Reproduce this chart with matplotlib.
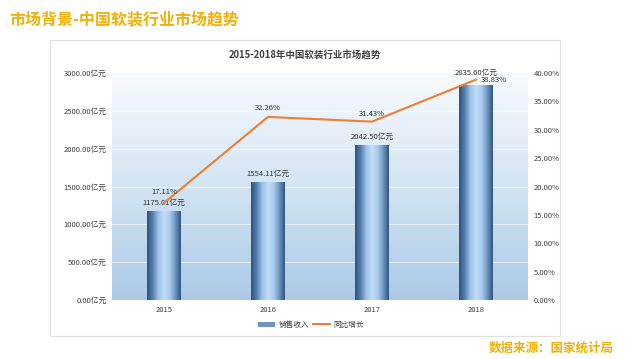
import matplotlib
matplotlib.use("Agg")
import matplotlib.pyplot as plt
import numpy as np
from matplotlib.patches import Rectangle
from matplotlib.colors import LinearSegmentedColormap
from matplotlib.ticker import FuncFormatter, MultipleLocator

plt.rcParams['font.family'] = ['Noto Sans CJK SC', 'DejaVu Sans']

years = ["2015", "2016", "2017", "2018"]
revenue = [1175.01, 1554.11, 2042.50, 2835.60]
growth = [17.11, 32.26, 31.43, 38.83]
rev_labels = ["1175.01亿元", "1554.11亿元", "2042.50亿元", "2835.60亿元"]
growth_labels = ["17.11%", "32.26%", "31.43%", "38.83%"]

fig = plt.figure(figsize=(6.4, 3.59), dpi=100)
W, H = 640, 359

def fx(px): return px / W
def fy(py): return 1 - py / H

# panel box
fig.patches.append(Rectangle((fx(50), fy(336)), fx(560) - fx(50), fy(40) - fy(336),
                             transform=fig.transFigure, facecolor='white',
                             edgecolor='#e0e0e0', linewidth=0.8, zorder=-5))

fig.text(fx(9), fy(19), "市场背景-中国软装行业市场趋势", fontsize=11.5, fontweight='bold',
         color='#F2B10A', ha='left', va='center')
fig.text(fx(614), fy(348), "数据来源：国家统计局", fontsize=9, fontweight='bold',
         color='#F2B10A', ha='right', va='center')
fig.text(fx(305), fy(55), "2015-2018年中国软装行业市场趋势", fontsize=6.8, fontweight='bold',
         color='#404040', ha='center', va='center')

ax = fig.add_axes([fx(112), fy(300), fx(528) - fx(112), fy(73) - fy(300)])
ax.set_zorder(2)
x = np.arange(len(years))
ax.set_xlim(-0.5, len(years) - 0.5)
ax.set_ylim(0, 3000)

# background gradient
bg = LinearSegmentedColormap.from_list('bg', ['#abc9e6', '#d3e4f3', '#f8fbfe'])
grad = np.linspace(0, 1, 256).reshape(-1, 1)
ax.imshow(grad, extent=(-0.5, len(years) - 0.5, 0, 3000), origin='lower',
          aspect='auto', cmap=bg, zorder=0)

for v in range(500, 3001, 500):
    ax.axhline(v, color='white', linewidth=0.6, alpha=0.7, zorder=1)

bars = ax.bar(x, revenue, width=0.32, color='none', zorder=2)
barcm = LinearSegmentedColormap.from_list('bar', ['#2c527c', '#557fad', '#9cc3e8', '#c3def7',
                                                   '#a9cbed', '#6d95c0', '#2f5680'])
hg = np.linspace(0, 1, 256).reshape(1, -1)
for b in bars:
    ax.imshow(hg, extent=(b.get_x(), b.get_x() + b.get_width(), 0, b.get_height()),
              aspect='auto', cmap=barcm, zorder=2)

rev_offsets = [(0, 3), (0, 3), (0, 3), (0, 6)]
for i, (v, lab) in enumerate(zip(revenue, rev_labels)):
    ax.annotate(lab, (x[i], v), xytext=rev_offsets[i], textcoords='offset points',
                ha='center', va='bottom', fontsize=5.5, color='#333333', zorder=5)

ax.yaxis.set_major_locator(MultipleLocator(500))
ax.yaxis.set_major_formatter(FuncFormatter(lambda v, p: f"{v:.2f}亿元"))
ax.set_xticks(x)
ax.set_xticklabels(years)
ax.tick_params(axis='both', length=0, labelsize=5.5, colors='#404040', pad=4)
for s in ax.spines.values():
    s.set_visible(False)

ax2 = ax.twinx()
ax2.set_ylim(0, 40)
line, = ax2.plot(x, growth, color='#ED7D31', linewidth=1.5, zorder=4)
ax2.yaxis.set_major_locator(MultipleLocator(5))
ax2.yaxis.set_major_formatter(FuncFormatter(lambda v, p: f"{v:.2f}%"))
ax2.tick_params(axis='y', length=0, labelsize=5.5, colors='#404040', pad=4)
for s in ax2.spines.values():
    s.set_visible(False)

g_offsets = [(0, 5), (0, 3.5), (0, 2.5), (3.5, 0)]
g_ha = ['center', 'center', 'center', 'left']
g_va = ['bottom', 'bottom', 'bottom', 'center']
for i, (v, lab) in enumerate(zip(growth, growth_labels)):
    ax2.annotate(lab, (x[i], v), xytext=g_offsets[i], textcoords='offset points',
                 ha=g_ha[i], va=g_va[i], fontsize=5.5, color='#333333', zorder=5)

# legend
proxy = Rectangle((0, 0), 1, 1, facecolor='#6d95c0', edgecolor='none')
leg = fig.legend([proxy, line], ["销售收入", "同比增长"], loc='center',
                 bbox_to_anchor=(fx(311), fy(325)), ncol=2, frameon=False,
                 fontsize=5.5, handlelength=2.2, handleheight=0.6, columnspacing=0.6,
                 handletextpad=0.4)
for t in leg.get_texts():
    t.set_color('#404040')

fig.savefig("out.png", dpi=100)
